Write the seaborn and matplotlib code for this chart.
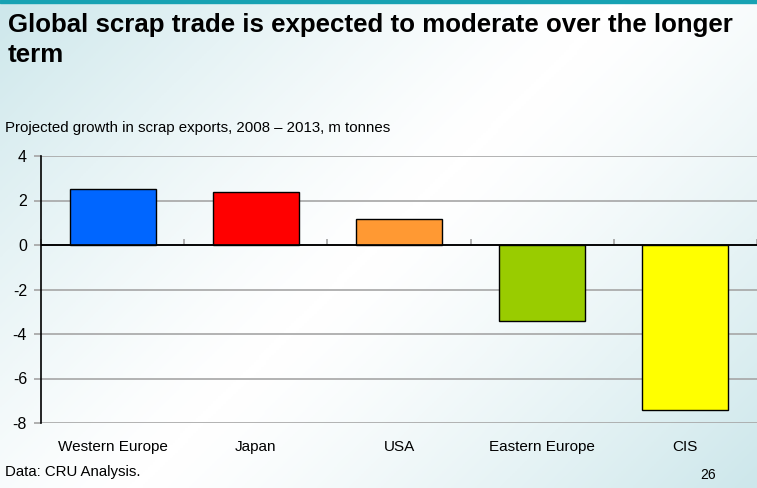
import numpy as np
import pandas as pd
import matplotlib
matplotlib.use("Agg")
import matplotlib.pyplot as plt
import seaborn as sns
from matplotlib.colors import LinearSegmentedColormap

categories = ["Western Europe", "Japan", "USA", "Eastern Europe", "CIS"]
values = [2.5, 2.4, 1.15, -3.4, -7.4]
colors = ["#0066ff", "#ff0000", "#ff9933", "#99cc00", "#ffff00"]
yticks = [-8, -6, -4, -2, 0, 2, 4]

title_lines = ["Global scrap trade is expected to moderate over the longer", "term"]
subtitle = "Projected growth in scrap exports, 2008 \u2013 2013, m tonnes"
source = "Data: CRU Analysis."
page = "26"

sns.set_theme(style="white")
plt.rcParams['font.family'] = ['Liberation Sans', 'DejaVu Sans']

fig = plt.figure(figsize=(7.57, 4.88), dpi=100)

# background gradient
bg = fig.add_axes([0, 0, 1, 1], zorder=-10)
h, w = 200, 300
yy, xx = np.mgrid[0:1:h*1j, 0:1:w*1j]
d = (xx * 0.757 + yy * 0.488) / (0.757 + 0.488)
g = np.abs(d - 0.5) * 2
g = np.clip(g, 0, 1) ** 1.3
cmap = LinearSegmentedColormap.from_list("bg", ["#ffffff", "#cde7eb"])
bg.imshow(g, cmap=cmap, aspect="auto", extent=[0, 1, 0, 1], origin="upper", vmin=0, vmax=1)
bg.axhspan(0.994, 1.0, color="#17a2b3")
bg.set_xlim(0, 1); bg.set_ylim(0, 1)
bg.axis("off")

ax = fig.add_axes([41/757, (488-423)/488, 1 - 41/757, (423-156)/488])
ax.patch.set_alpha(0)

df = pd.DataFrame({"region": categories, "value": values})
sns.barplot(data=df, x="region", y="value", hue="region", palette=colors,
            order=categories, hue_order=categories, legend=False, width=0.6,
            edgecolor="black", linewidth=1.0, saturation=1, ax=ax, zorder=3)

ax.set_ylim(-8, 4)
ax.set_xlim(-0.5, len(categories) - 0.5)
ax.set_yticks(yticks)
ax.set_yticklabels([str(t) for t in yticks])
for t in yticks:
    if t != 0:
        ax.axhline(t, color="#a6a6a6", lw=1.2, zorder=1)
ax.axhline(0, color="black", lw=1.2, zorder=4)

ax.set_xlabel("")
ax.set_ylabel("")
for s in ["top", "right", "bottom"]:
    ax.spines[s].set_visible(False)
ax.spines["left"].set_color("black")
ax.spines["left"].set_linewidth(1.2)

ax.tick_params(axis="y", left=True, length=5, color="#a6a6a6", labelsize=11.5, pad=5, labelcolor="black")
ax.tick_params(axis="x", bottom=False, labelsize=11, pad=6, labelcolor="black")

sec = ax.secondary_xaxis(8/12)
sec.set_xticks(np.arange(len(categories) + 1) - 0.5)
sec.set_xticklabels([])
sec.tick_params(axis="x", direction="out", length=4, color="#a6a6a6")
sec.spines["bottom"].set_visible(False)

fig.text(8/757, 1 - 32/488, title_lines[0], fontsize=18.6, fontweight="bold", va="baseline",
         ha="left", color="black")
fig.text(8/757, 1 - 62/488, title_lines[1], fontsize=18.6, fontweight="bold", va="baseline",
         ha="left", color="black")
fig.text(5/757, 1 - 128/488, subtitle, fontsize=10.8, va="center", ha="left", color="black")
fig.text(5/757, 1 - 472/488, source, fontsize=10.8, va="center", ha="left", color="black")
fig.text(708/757, 1 - 475/488, page, fontsize=10, va="center", ha="center", color="black")

fig.savefig("out.png", dpi=100)
